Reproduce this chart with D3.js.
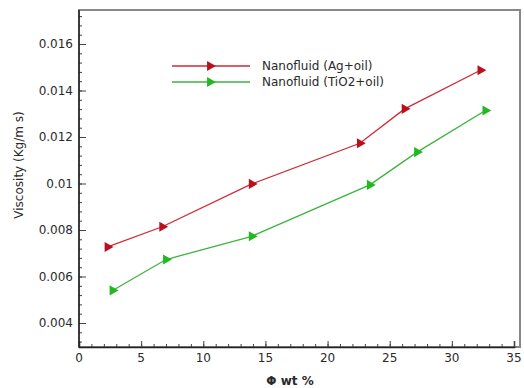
<!DOCTYPE html>
<head>
  <meta charset="utf-8" />
  <script src="https://cdn.jsdelivr.net/npm/d3@7"></script>
  <style>
    body { margin: 0; background: #fff; }
    text { font-family: "DejaVu Sans", sans-serif; fill: #2a2a2a; }
  </style>
</head>
<body>
  <script>
    // values
    var agX = [2.3, 6.7, 13.9, 22.6, 26.2, 32.3];
    var agY = [0.00727, 0.00814, 0.00998, 0.01173, 0.01321, 0.01487];
    var tiX = [2.7, 7.0, 13.9, 23.4, 27.2, 32.7];
    var tiY = [0.0054, 0.00673, 0.00773, 0.00994, 0.01135, 0.01314];
    var seriesNames = ["Nanofluid (Ag+oil)", "Nanofluid (TiO2+oil)"];
    var xTicks = [0, 5, 10, 15, 20, 25, 30, 35];
    var yTicks = [0.004, 0.006, 0.008, 0.01, 0.012, 0.014, 0.016];
    var yTickLabels = ["0.004", "0.006", "0.008", "0.01", "0.012", "0.014", "0.016"];

    var W = 524, H = 388;
    var margin = { top: 10, right: 4, bottom: 41, left: 79 };

    var svg = d3.select("body").append("svg")
      .attr("width", W).attr("height", H);

    var x = d3.scaleLinear().domain([0, 35]).range([margin.left, 514]);
    var y = d3.scaleLinear().domain([0.004, 0.016]).range([323, 44]);

    // frame
    svg.append("rect")
      .attr("x", margin.left).attr("y", margin.top)
      .attr("width", W - margin.right - margin.left)
      .attr("height", H - margin.bottom - margin.top)
      .attr("fill", "none").attr("stroke", "#888").attr("stroke-width", 2);

    var xAxis = svg.append("g")
      .attr("transform", "translate(0," + (H - margin.bottom) + ")");
    xAxis.call(d3.axisTop(x).tickValues(d3.range(0, 36, 1)).tickSize(3).tickFormat(""));
    xAxis.call(g => g.select(".domain").remove());
    var xMaj = svg.append("g")
      .attr("transform", "translate(0," + (H - margin.bottom) + ")")
      .call(d3.axisTop(x).tickValues(xTicks).tickSize(6).tickFormat(""));
    xMaj.select(".domain").attr("stroke", "#222").attr("stroke-width", 1.5);
    svg.append("g").selectAll("text").data(xTicks).enter().append("text")
      .attr("x", d => x(d)).attr("y", H - margin.bottom + 15)
      .attr("text-anchor", "middle").attr("font-size", 12)
      .text(d => d);

    var yMin = d3.range(0.0032, 0.0176, 0.0004);
    svg.append("g")
      .attr("transform", "translate(" + margin.left + ",0)")
      .call(d3.axisRight(y).tickValues(yMin).tickSize(3).tickFormat(""))
      .call(g => g.select(".domain").remove());
    var yMaj = svg.append("g")
      .attr("transform", "translate(" + margin.left + ",0)")
      .call(d3.axisRight(y).tickValues(yTicks).tickSize(7).tickFormat(""));
    yMaj.select(".domain").remove();
    svg.append("line")
      .attr("x1", margin.left).attr("x2", margin.left)
      .attr("y1", margin.top).attr("y2", H - margin.bottom)
      .attr("stroke", "#222").attr("stroke-width", 1.5);
    svg.selectAll(".tick line").attr("stroke", "#444");
    svg.append("g").selectAll("text").data(yTicks).enter().append("text")
      .attr("x", margin.left - 6).attr("y", d => y(d) + 4)
      .attr("text-anchor", "end").attr("font-size", 12)
      .text((d, i) => yTickLabels[i]);

    // axis titles
    svg.append("text")
      .attr("transform", "translate(23,165) rotate(-90)")
      .attr("text-anchor", "middle").attr("font-size", 12)
      .text("Viscosity (Kg/m s)");
    svg.append("text")
      .attr("x", 290).attr("y", 385)
      .attr("text-anchor", "middle").attr("font-size", 12).attr("font-weight", "bold")
      .text("\u03A6 wt  %");

    var tri = d3.symbol().type(d3.symbolTriangle).size(45);
    var series = [
      { xs: agX, ys: agY, line: "#d02a34", mark: "#b8101c" },
      { xs: tiX, ys: tiY, line: "#3cb43c", mark: "#22b822" }
    ];
    var line = d3.line().x(d => x(d[0])).y(d => y(d[1]));

    series.forEach(function (s) {
      var pts = s.xs.map((v, i) => [v, s.ys[i]]);
      svg.append("path").datum(pts)
        .attr("d", line).attr("fill", "none")
        .attr("stroke", s.line).attr("stroke-width", 1.3);
      svg.selectAll(null).data(pts).enter().append("path")
        .attr("d", tri)
        .attr("transform", d => "translate(" + x(d[0]) + "," + y(d[1]) + ") rotate(90)")
        .attr("fill", s.mark);
    });

    // legend
    var leg = svg.append("g");
    series.forEach(function (s, i) {
      var ly = 66 + i * 16;
      leg.append("line").attr("x1", 172).attr("x2", 250)
        .attr("y1", ly).attr("y2", ly)
        .attr("stroke", s.line).attr("stroke-width", 1.3);
      leg.append("path").attr("d", tri)
        .attr("transform", "translate(210," + ly + ") rotate(90)")
        .attr("fill", s.mark);
      leg.append("text").attr("x", 262).attr("y", ly + 4)
        .attr("font-size", 12).text(seriesNames[i]);
    });
  </script>
</body>
